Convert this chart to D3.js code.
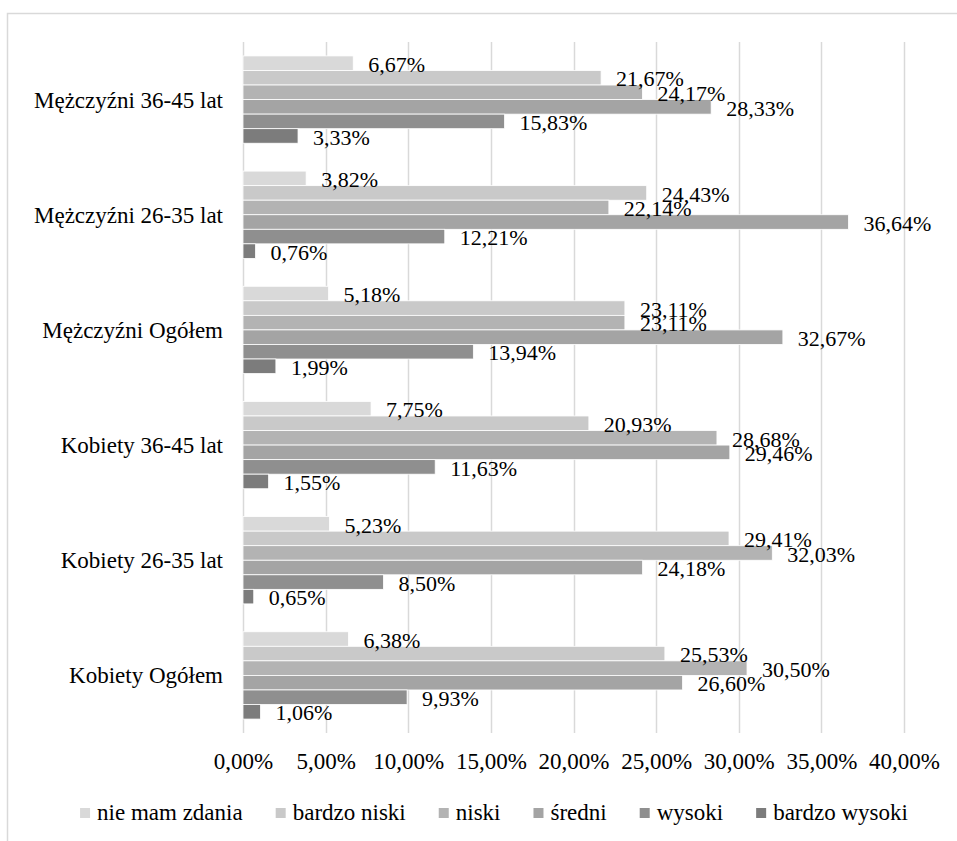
<!DOCTYPE html>
<html>
<head>
<meta charset="utf-8">
<script src="https://cdn.jsdelivr.net/npm/d3@7"></script>
<style>
  body { margin: 0; background: #fff; }
  svg text { font-family: "Times New Roman", Tinos, "Liberation Serif", "DejaVu Serif", serif; fill: #000; }
</style>
</head>
<body>
<div id="vis"></div>
<script>

// Data ----------------------------------------------------------------------

var categories = ["Mężczyźni 36-45 lat", "Mężczyźni 26-35 lat", "Mężczyźni Ogółem",
                  "Kobiety 36-45 lat", "Kobiety 26-35 lat", "Kobiety Ogółem"];

var series = ["nie mam zdania", "bardzo niski", "niski", "średni", "wysoki", "bardzo wysoki"];

// one array per series, in the order of categories above (percent)
var nieMamZdania = [6.67, 3.82, 5.18, 7.75, 5.23, 6.38];
var bardzoNiski  = [21.67, 24.43, 23.11, 20.93, 29.41, 25.53];
var niski        = [24.17, 22.14, 23.11, 28.68, 32.03, 30.50];
var sredni       = [28.33, 36.64, 32.67, 29.46, 24.18, 26.60];
var wysoki       = [15.83, 12.21, 13.94, 11.63, 8.50, 9.93];
var bardzoWysoki = [3.33, 0.76, 1.99, 1.55, 0.65, 1.06];

var ticks = [0, 5, 10, 15, 20, 25, 30, 35, 40];

var colors = ["#d9d9d9", "#c9c9c9", "#b3b3b3", "#a4a4a4", "#8f8f8f", "#7c7c7c"];

var values = [nieMamZdania, bardzoNiski, niski, sredni, wysoki, bardzoWysoki];

var rows = [];
series.forEach(function(s, si) {
  categories.forEach(function(c, ci) {
    rows.push({series: s, si: si, category: c, value: values[si][ci]});
  });
});

// Setup ---------------------------------------------------------------------

var width = 957, height = 841;
var fontSize = 23;
var fmt = function(v) { return v.toFixed(2).replace(".", ",") + "%"; };

var svg = d3.select("#vis").append("svg")
  .attr("width", width)
  .attr("height", height);

// chart border (runs off the right and bottom edge)
svg.append("rect")
  .attr("x", 7.5).attr("y", 13.5)
  .attr("width", 1000).attr("height", 900)
  .attr("fill", "none")
  .attr("stroke", "#d9d9d9")
  .attr("stroke-width", 1.5);

// Scales --------------------------------------------------------------------

var x = d3.scaleLinear()
  .domain([0, 40])
  .range([243, 904]);

var y = d3.scaleBand()
  .domain(categories)
  .range([42, 733])
  .paddingInner(0.242)
  .paddingOuter(0.121);

var ys = d3.scaleBand()
  .domain(series)
  .range([0, y.bandwidth()]);

// Grid ----------------------------------------------------------------------

svg.append("g")
  .selectAll("line")
  .data(ticks)
  .enter().append("line")
  .attr("x1", function(d) { return Math.round(x(d)) + 0.5; })
  .attr("x2", function(d) { return Math.round(x(d)) + 0.5; })
  .attr("y1", 42)
  .attr("y2", 733)
  .attr("stroke", "#d9d9d9")
  .attr("stroke-width", 1.5);

// x axis labels
var xAxis = d3.axisBottom(x)
  .tickValues(ticks)
  .tickSize(0)
  .tickPadding(0)
  .tickFormat(fmt);

var gx = svg.append("g")
  .attr("transform", "translate(0,753)")
  .call(xAxis);
gx.attr("font-family", null).attr("font-size", null);
gx.select(".domain").remove();
gx.selectAll("text")
  .attr("dy", "0.71em")
  .style("font-size", fontSize + "px")
  .attr("fill", "#000");

// category labels
svg.append("g")
  .selectAll("text")
  .data(categories)
  .enter().append("text")
  .attr("x", 223)
  .attr("y", function(d) { return y(d) + y.bandwidth() / 2; })
  .attr("dy", "0.35em")
  .attr("text-anchor", "end")
  .style("font-size", fontSize + "px")
  .text(function(d) { return d; });

// Bars ----------------------------------------------------------------------

svg.append("g")
  .selectAll("rect")
  .data(rows)
  .enter().append("rect")
  .attr("x", x(0))
  .attr("y", function(d) { return y(d.category) + ys(d.series); })
  .attr("width", function(d) { return x(d.value) - x(0); })
  .attr("height", ys.bandwidth())
  .attr("fill", function(d) { return colors[d.si]; })
  .attr("stroke", "#fff")
  .attr("stroke-width", 0.8);

// data labels
svg.append("g")
  .selectAll("text")
  .data(rows)
  .enter().append("text")
  .attr("x", function(d) { return x(d.value) + 15; })
  .attr("y", function(d) { return y(d.category) + ys(d.series) + ys.bandwidth() / 2 + 1; })
  .attr("dy", "0.35em")
  .style("font-size", (fontSize - 1) + "px")
  .text(function(d) { return fmt(d.value); });

// Legend --------------------------------------------------------------------

var legend = svg.append("g");
var items = legend.selectAll("g")
  .data(series)
  .enter().append("g");

items.append("rect")
  .attr("width", 10)
  .attr("height", 10)
  .attr("y", -4)
  .attr("fill", function(d, i) { return colors[i]; });

items.append("text")
  .attr("x", 17)
  .attr("dy", "0.35em")
  .style("font-size", fontSize + "px")
  .text(function(d) { return d; });

var pos = 0, gap = 33;
items.each(function() {
  var w = 17 + d3.select(this).select("text").node().getComputedTextLength();
  d3.select(this).attr("transform", "translate(" + pos + ",0)");
  pos += w + gap;
});
var total = pos - gap;
legend.attr("transform", "translate(" + (494 - total / 2) + ",812)");

</script>
</body>
</html>
